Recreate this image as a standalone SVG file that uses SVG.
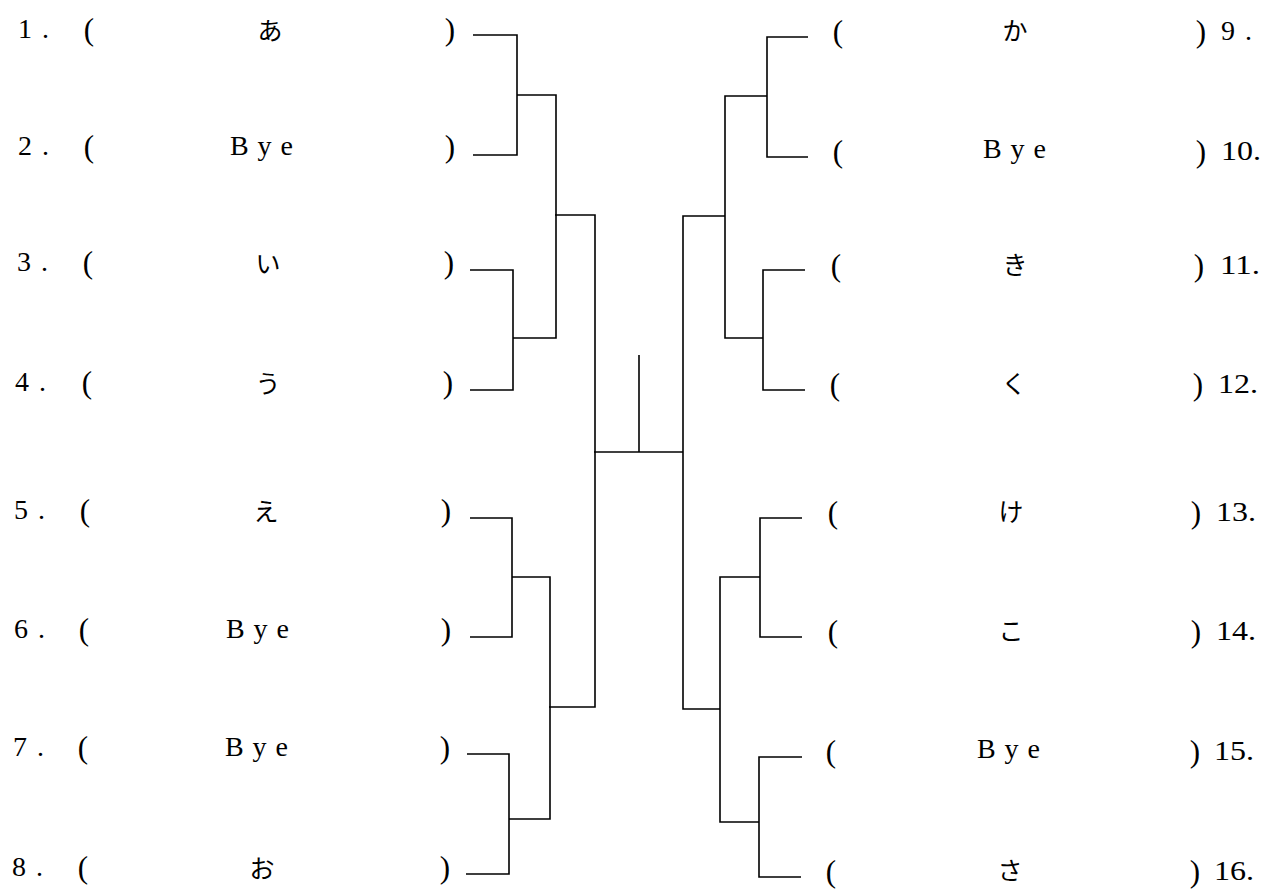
<svg xmlns="http://www.w3.org/2000/svg" width="1265" height="896" viewBox="0 0 1265 896">
<style>
.t{font-family:"Liberation Serif","DejaVu Serif","Noto Sans CJK JP",serif;font-size:28px;fill:#000}
.n{letter-spacing:10px}
.c{text-anchor:middle}
.p{font-family:"Liberation Serif","DejaVu Serif",serif;font-size:31px;text-anchor:middle;fill:#000}
.k{font-family:"Noto Sans CJK JP","Liberation Serif",sans-serif;font-size:25px;font-weight:400;text-anchor:middle;fill:#000}
.b{letter-spacing:9px;text-anchor:middle}
.rn{font-size:27px}
.ln{fill:none;stroke:#000;stroke-width:1.6}
</style>
<rect width="1265" height="896" fill="#fff"/>
<g id="connectors" class="ln">
<path d="M473 35 H517 V155 H473"/>
<path d="M517 95 H556 V338 H513"/>
<path d="M470 270 H513 V390 H470"/>
<path d="M555 215 H595 V707 H549"/>
<path d="M470 518 H512 V637 H470"/>
<path d="M512 577 H550 V819 H509"/>
<path d="M467 754 H509 V874 H466"/>
<path d="M594 452 H683"/>
<path d="M639 355 V452"/>
<path d="M808 37 H767 V157 H808"/>
<path d="M767 96 H725 V338 H763"/>
<path d="M805 270 H763 V390 H805"/>
<path d="M725 216 H683 V709 H720"/>
<path d="M802 518 H760 V637 H802"/>
<path d="M760 577 H720 V822 H759"/>
<path d="M802 757 H759 V877 H801"/>
</g>
<g id="e1"><text class="t n" x="18" y="38">1.</text><text class="p" x="89" y="40">(</text><text class="k" x="270" y="40">あ</text><text class="p" x="450" y="40">)</text></g>
<g id="e2"><text class="t n" x="18" y="155">2.</text><text class="p" x="89" y="157">(</text><text class="t b" x="266" y="155">Bye</text><text class="p" x="450" y="157">)</text></g>
<g id="e3"><text class="t n" x="17" y="271">3.</text><text class="p" x="88" y="273">(</text><text class="k" x="268" y="273">い</text><text class="p" x="449" y="273">)</text></g>
<g id="e4"><text class="t n" x="15" y="391">4.</text><text class="p" x="87" y="393">(</text><text class="k" x="268" y="393">う</text><text class="p" x="448" y="393">)</text></g>
<g id="e5"><text class="t n" x="14" y="519">5.</text><text class="p" x="85" y="521">(</text><text class="k" x="266" y="521">え</text><text class="p" x="446" y="521">)</text></g>
<g id="e6"><text class="t n" x="14" y="638">6.</text><text class="p" x="84" y="640">(</text><text class="t b" x="262" y="638">Bye</text><text class="p" x="446" y="640">)</text></g>
<g id="e7"><text class="t n" x="13" y="756">7.</text><text class="p" x="83" y="758">(</text><text class="t b" x="261" y="756">Bye</text><text class="p" x="445" y="758">)</text></g>
<g id="e8"><text class="t n" x="12" y="876">8.</text><text class="p" x="83" y="878">(</text><text class="k" x="262" y="878">お</text><text class="p" x="445" y="878">)</text></g>
<g id="e9"><text class="p" x="838" y="42">(</text><text class="k" x="1015" y="40">か</text><text class="p" x="1201" y="42">)</text><text class="t n" x="1221" y="40">9.</text></g>
<g id="e10"><text class="p" x="838" y="162">(</text><text class="t b" x="1019" y="158">Bye</text><text class="p" x="1201" y="162">)</text><text class="t rn" x="1221" y="160" textLength="40" lengthAdjust="spacingAndGlyphs">10.</text></g>
<g id="e11"><text class="p" x="836" y="276">(</text><text class="k" x="1015" y="274">き</text><text class="p" x="1199" y="276">)</text><text class="t rn" x="1220" y="274" textLength="40" lengthAdjust="spacingAndGlyphs">11.</text></g>
<g id="e12"><text class="p" x="835" y="395">(</text><text class="k" x="1014" y="393">く</text><text class="p" x="1198" y="395">)</text><text class="t rn" x="1218" y="393" textLength="40" lengthAdjust="spacingAndGlyphs">12.</text></g>
<g id="e13"><text class="p" x="833" y="523">(</text><text class="k" x="1011" y="521">け</text><text class="p" x="1196" y="523">)</text><text class="t rn" x="1216" y="521" textLength="40" lengthAdjust="spacingAndGlyphs">13.</text></g>
<g id="e14"><text class="p" x="833" y="642">(</text><text class="k" x="1011" y="640">こ</text><text class="p" x="1196" y="642">)</text><text class="t rn" x="1216" y="640" textLength="40" lengthAdjust="spacingAndGlyphs">14.</text></g>
<g id="e15"><text class="p" x="831" y="762">(</text><text class="t b" x="1013" y="758">Bye</text><text class="p" x="1195" y="762">)</text><text class="t rn" x="1214" y="760" textLength="40" lengthAdjust="spacingAndGlyphs">15.</text></g>
<g id="e16"><text class="p" x="831" y="882">(</text><text class="k" x="1010" y="880">さ</text><text class="p" x="1195" y="882">)</text><text class="t rn" x="1214" y="880" textLength="40" lengthAdjust="spacingAndGlyphs">16.</text></g>
</svg>
